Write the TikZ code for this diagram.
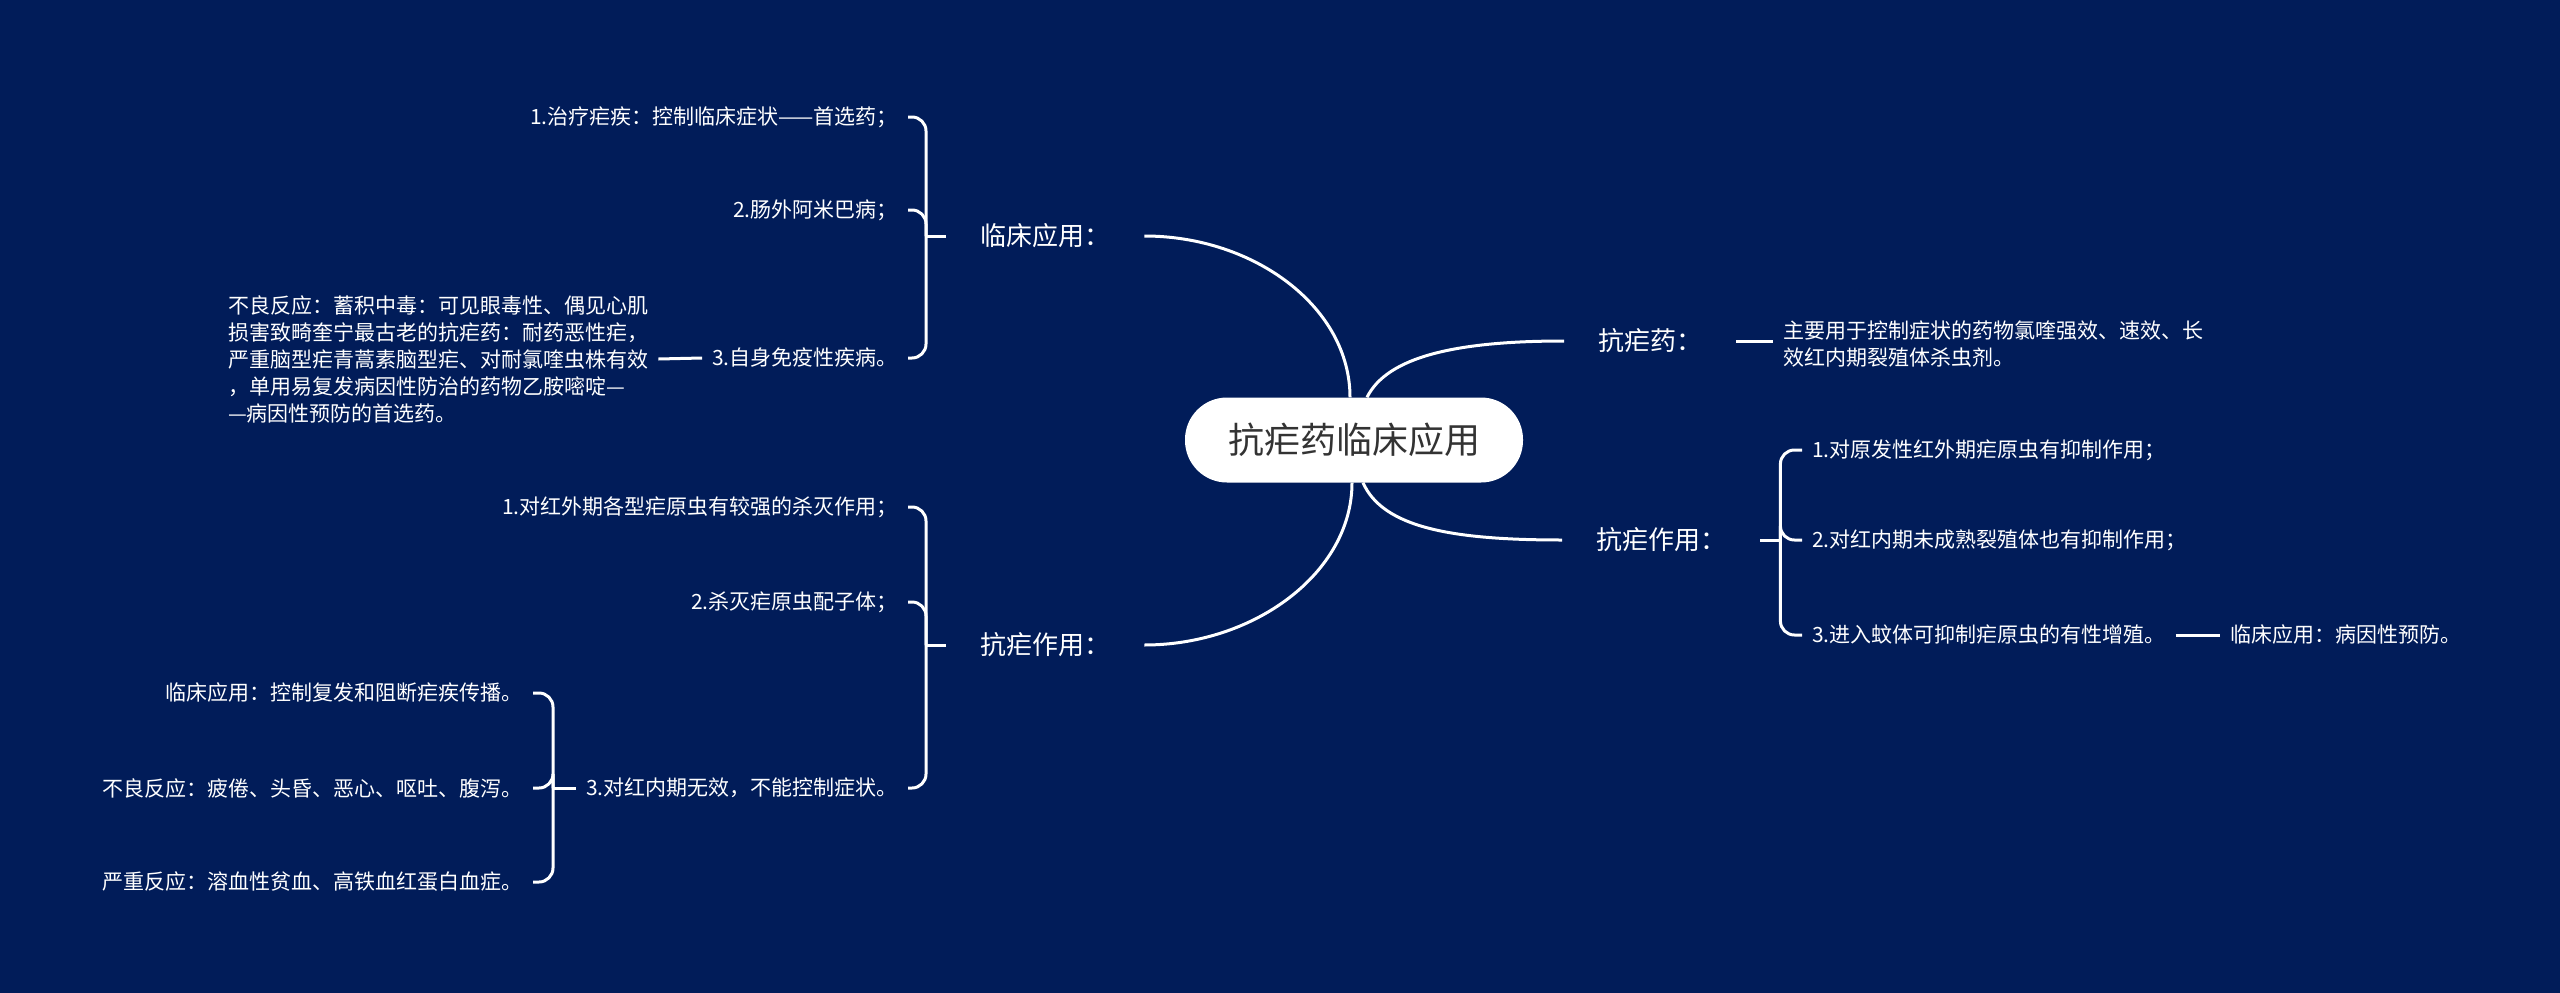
\documentclass[tikz,border=0pt]{standalone}
\usepackage{fontspec}
\setmainfont{Noto Sans CJK SC}
\usetikzlibrary{positioning}
\definecolor{bgblue}{RGB}{1,28,89}
\definecolor{roottext}{RGB}{51,51,51}
\tikzset{
  conn/.style={draw=white, line width=3pt},
  brace/.style={conn, rounded corners=14pt},
  root/.style={fill=white, text=roottext, rounded corners=42pt, minimum width=338pt, minimum height=85pt, font=\fontsize{36}{40}\selectfont},
  branch/.style={text=white, inner xsep=34pt, inner ysep=0pt, font=\fontsize{26}{30}\selectfont},
  leaf/.style={text=white, inner xsep=10pt, inner ysep=0pt, font=\fontsize{21}{27}\selectfont},
}
\begin{document}
\begin{tikzpicture}[x=1pt, y=-1pt]
  % Background
  \useasboundingbox (0,0) rectangle (2560,993);
  \fill[bgblue] (0,0) rectangle (2560,993);

  % Root
  \node[root] (root) at (1354,440) {抗疟药临床应用};

  % Main branches
  \node[branch, anchor=west] (lc) at (946,236) {临床应用：};
  \node[branch, anchor=west] (lz) at (946,645) {抗疟作用：};
  \node[branch, anchor=west] (ry) at (1564,341) {抗疟药：};
  \node[branch, anchor=west] (rz) at (1562,540) {抗疟作用：};

  \draw[conn] ([xshift=-4pt]root.north) .. controls +(0,-90) and +(110,0) .. (lc.east);
  \draw[conn] ([xshift=-2pt]root.south) .. controls +(0,90) and +(110,0) .. (lz.east);
  \draw[conn] ([xshift=13pt]root.north) .. controls +(20,-40) and +(-110,0) .. (ry.west);
  \draw[conn] ([xshift=9pt]root.south) .. controls +(20,45) and +(-110,0) .. (rz.west);

  % Left top: clinical use
  \node[leaf, anchor=east] (lc1) at (908,117) {1.治疗疟疾：控制临床症状——首选药；};
  \node[leaf, anchor=east] (lc2) at (908,210) {2.肠外阿米巴病；};
  \node[leaf, anchor=east] (lc3) at (908,358) {3.自身免疫性疾病。};
  \node[leaf, anchor=west, align=left] (lcnote) at (218,359) {不良反应：蓄积中毒：可见眼毒性、偶见心肌\\损害致畸奎宁最古老的抗疟药：耐药恶性疟，\\严重脑型疟青蒿素脑型疟、对耐氯喹虫株有效\\，单用易复发病因性防治的药物乙胺嘧啶—\\—病因性预防的首选药。};
  \coordinate (lcj) at ([xshift=-20pt]lc.west);
  \draw[conn] (lc.west) -- (lcj);
  \foreach \c in {lc1,lc2,lc3}
    \draw[brace] (lcj) |- (\c.east);
  \draw[conn] (lcnote.east) -- (lc3.west);

  % Left bottom: antimalarial action
  \node[leaf, anchor=east] (lz1) at (908,507) {1.对红外期各型疟原虫有较强的杀灭作用；};
  \node[leaf, anchor=east] (lz2) at (908,602) {2.杀灭疟原虫配子体；};
  \node[leaf, anchor=east] (lz3) at (908,788) {3.对红内期无效，不能控制症状。};
  \coordinate (lzj) at ([xshift=-20pt]lz.west);
  \draw[conn] (lz.west) -- (lzj);
  \foreach \c in {lz1,lz2,lz3}
    \draw[brace] (lzj) |- (\c.east);

  \node[leaf, anchor=east] (lz31) at (533,693) {临床应用：控制复发和阻断疟疾传播。};
  \node[leaf, anchor=east] (lz32) at (533,788) {不良反应：疲倦、头昏、恶心、呕吐、腹泻。};
  \node[leaf, anchor=east] (lz33) at (533,882) {严重反应：溶血性贫血、高铁血红蛋白血症。};
  \coordinate (lz3j) at ([xshift=20pt]lz32.east);
  \draw[conn] (lz3.west) -- (lz3j);
  \foreach \c in {lz31,lz32,lz33}
    \draw[brace] (lz3j) |- (\c.east);

  % Right top: antimalarial drug
  \node[leaf, anchor=west, align=left] (rydesc) at (1773,344) {主要用于控制症状的药物氯喹强效、速效、长\\效红内期裂殖体杀虫剂。};
  \draw[conn] (ry.east) -- (ry.east -| rydesc.west);

  % Right bottom: antimalarial action
  \node[leaf, anchor=west] (rz1) at (1802,450) {1.对原发性红外期疟原虫有抑制作用；};
  \node[leaf, anchor=west] (rz2) at (1802,540) {2.对红内期未成熟裂殖体也有抑制作用；};
  \node[leaf, anchor=west] (rz3) at (1802,635) {3.进入蚊体可抑制疟原虫的有性增殖。};
  \node[leaf, right=44pt of rz3] (rz3a) {临床应用：病因性预防。};
  \coordinate (rzj) at ([xshift=20pt]rz.east);
  \draw[conn] (rz.east) -- (rzj);
  \foreach \c in {rz1,rz2,rz3}
    \draw[brace] (rzj) |- (\c.west);
  \draw[conn] (rz3.east) -- (rz3a.west);
\end{tikzpicture}
\end{document}
